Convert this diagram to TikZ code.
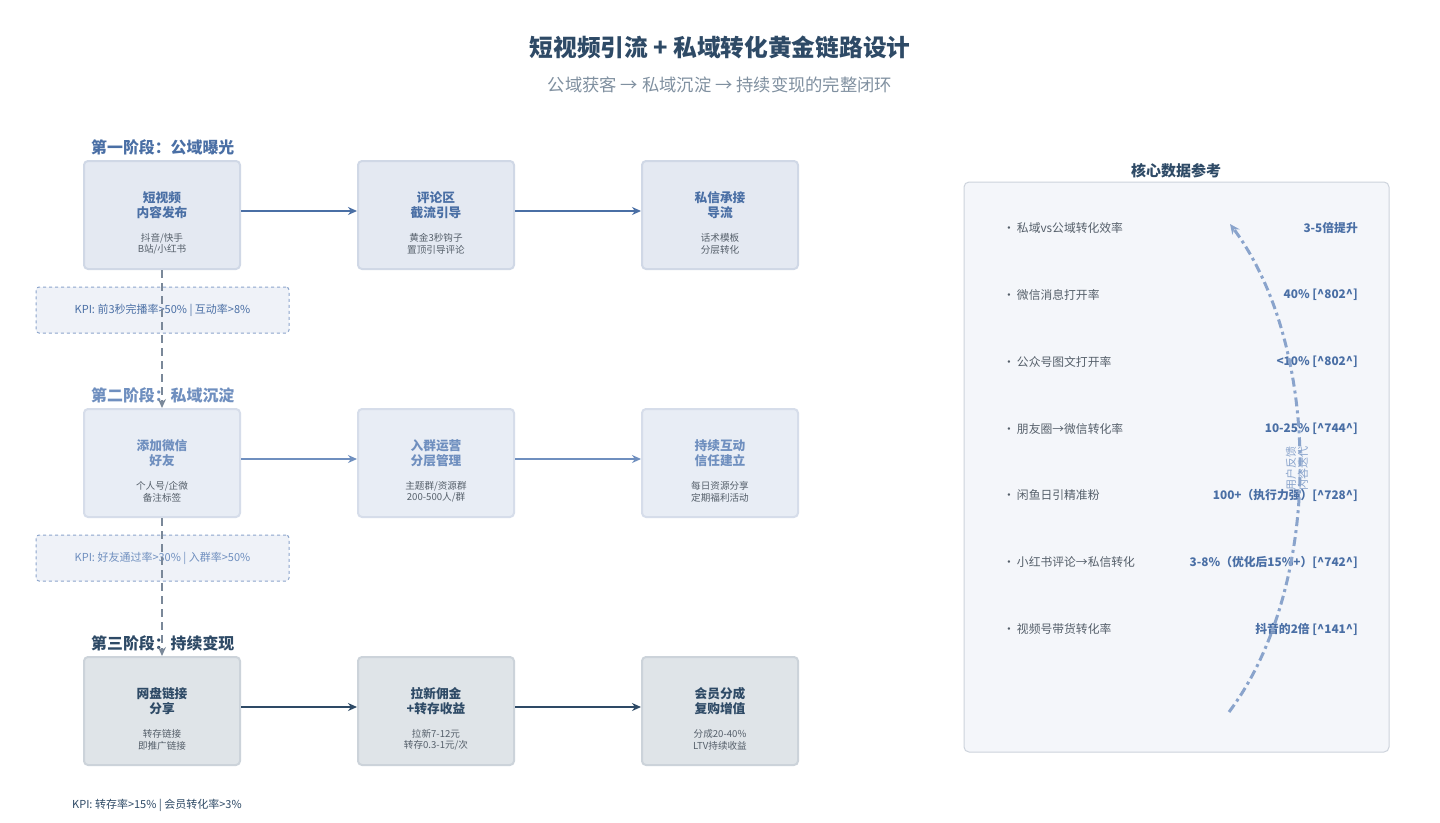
\documentclass[tikz,border=0pt]{standalone}
\usepackage{fontspec}
\setmainfont{Noto Sans CJK SC}
\usetikzlibrary{arrows.meta}
\definecolor{c1}{HTML}{4A6FA5}\definecolor{f1}{HTML}{E4E9F2}\definecolor{b1}{HTML}{D0D8E6}
\definecolor{c2}{HTML}{6F8FBF}\definecolor{f2}{HTML}{E8EDF5}\definecolor{b2}{HTML}{D6DDEA}
\definecolor{c3}{HTML}{2E4A66}\definecolor{f3}{HTML}{DFE4E8}\definecolor{b3}{HTML}{CCD3DA}
\definecolor{tt}{HTML}{2E4A66}\definecolor{sub}{HTML}{8090A0}\definecolor{gr}{HTML}{555F6A}
\definecolor{vg}{HTML}{7A8899}\definecolor{pf}{HTML}{F4F6FA}\definecolor{pb}{HTML}{CDD3DC}
\definecolor{cv}{HTML}{8AA4CC}
\begin{document}
\begin{tikzpicture}[x=1pt,y=-1pt,
 box/.style={draw=#1,line width=2pt,rounded corners=4pt,minimum width=156pt,minimum height=108pt,inner sep=0pt},
 ttl/.style={font=\bfseries\fontsize{12.7}{15}\selectfont,align=center},
 sm/.style={font=\fontsize{9.6}{11.5}\selectfont,align=center,text=gr},
 stage/.style={font=\bfseries\fontsize{15.9}{18}\selectfont,anchor=west,inner sep=0pt},
 harr/.style={line width=2.6pt,-{Stealth[length=9pt,width=8pt]}},
 varr/.style={vg,line width=2.6pt,dash pattern=on 8pt off 5pt,-{Stealth[length=9pt,width=8pt]}},
 kpi/.style={draw=#1,dashed,line width=1pt,rounded corners=3pt,minimum width=253pt,minimum height=46pt,font=\fontsize{11}{13}\selectfont},
 li/.style={anchor=west,font=\fontsize{11.8}{13}\selectfont,text=gr,inner sep=0pt},
 ri/.style={anchor=east,font=\bfseries\fontsize{11.8}{13}\selectfont,text=c1,inner sep=0pt}]
\useasboundingbox (0,0) rectangle (1440,822);
\fill[white] (0,0) rectangle (1440,822);
\node[font=\bfseries\fontsize{23.7}{26}\selectfont,text=tt] (title) at (720,47) {短视频引流 + 私域转化黄金链路设计};
\node[font=\fontsize{17.3}{20}\selectfont,text=sub] (subt) at (720,85) {公域获客 → 私域沉淀 → 持续变现的完整闭环};
% stage labels
\node[stage,text=c1] (s1) at (91,147) {第一阶段：公域曝光};
\node[stage,text=c2] (s2) at (91,395) {第二阶段：私域沉淀};
\node[stage,text=c3] (s3) at (91,643) {第三阶段：持续变现};
% KPI boxes
\node[kpi=c2!80,fill=f2!70,text=c1] (k1) at (162.5,310) {KPI: 前3秒完播率>50\% | 互动率>8\%};
\node[kpi=c2!80,fill=f2!70,text=c2] (k2) at (162.5,558) {KPI: 好友通过率>30\% | 入群率>50\%};
\node[anchor=west,inner sep=0pt,font=\fontsize{11}{13}\selectfont,text=tt] (k3) at (72,805) {KPI: 转存率>15\% | 会员转化率>3\%};
% row1
\node[box=b1,fill=f1] (a1) at (162,215) {};
\node[ttl,text=c1] at (162,205) {短视频\\内容发布};
\node[sm] at (162,244) {抖音/快手\\B站/小红书};
\node[box=b1,fill=f1] (a2) at (436,215) {};
\node[ttl,text=c1] at (436,205) {评论区\\截流引导};
\node[sm] at (436,244) {黄金3秒钩子\\置顶引导评论};
\node[box=b1,fill=f1] (a3) at (720,215) {};
\node[ttl,text=c1] at (720,205) {私信承接\\导流};
\node[sm] at (720,244) {话术模板\\分层转化};
% row2
\node[box=b2,fill=f2] (b1n) at (162,463) {};
\node[ttl,text=c2] at (162,453) {添加微信\\好友};
\node[sm] at (162,492) {个人号/企微\\备注标签};
\node[box=b2,fill=f2] (b2n) at (436,463) {};
\node[ttl,text=c2] at (436,453) {入群运营\\分层管理};
\node[sm] at (436,492) {主题群/资源群\\200-500人/群};
\node[box=b2,fill=f2] (b3n) at (720,463) {};
\node[ttl,text=c2] at (720,453) {持续互动\\信任建立};
\node[sm] at (720,492) {每日资源分享\\定期福利活动};
% row3
\node[box=b3,fill=f3] (c1n) at (162,711) {};
\node[ttl,text=c3] at (162,701) {网盘链接\\分享};
\node[sm] at (162,740) {转存链接\\即推广链接};
\node[box=b3,fill=f3] (c2n) at (436,711) {};
\node[ttl,text=c3] at (436,701) {拉新佣金\\+转存收益};
\node[sm] at (436,740) {拉新7-12元\\转存0.3-1元/次};
\node[box=b3,fill=f3] (c3n) at (720,711) {};
\node[ttl,text=c3] at (720,701) {会员分成\\复购增值};
\node[sm] at (720,740) {分成20-40\%\\LTV持续收益};
% arrows
\draw[harr,c1] ([yshift=4pt]a1.east) -- ([yshift=4pt]a2.west);
\draw[harr,c1] ([yshift=4pt]a2.east) -- ([yshift=4pt]a3.west);
\draw[harr,c2] ([yshift=4pt]b1n.east) -- ([yshift=4pt]b2n.west);
\draw[harr,c2] ([yshift=4pt]b2n.east) -- ([yshift=4pt]b3n.west);
\draw[harr,c3] ([yshift=4pt]c1n.east) -- ([yshift=4pt]c2n.west);
\draw[harr,c3] ([yshift=4pt]c2n.east) -- ([yshift=4pt]c3n.west);
\draw[varr] (a1.south) -- (b1n.north);
\draw[varr] (b1n.south) -- (c1n.north);
% right panel
\node[font=\bfseries\fontsize{15}{17}\selectfont,text=tt] (ph) at (1176,171) {核心数据参考};
\node[draw=pb,fill=pf,line width=1pt,rounded corners=5pt,minimum width=425pt,minimum height=570pt] (panel) at (1176.5,467) {};
\foreach \y/\l/\r in {228/私域vs公域转化效率/3-5倍提升, 295/微信消息打开率/{40\% [\textasciicircum802\textasciicircum]}, 362/公众号图文打开率/{<10\% [\textasciicircum802\textasciicircum]}, 429/朋友圈→微信转化率/{10-25\% [\textasciicircum744\textasciicircum]}, 495/闲鱼日引精准粉/{100+（执行力强）[\textasciicircum728\textasciicircum]}, 562/小红书评论→私信转化/{3-8\%（优化后15\%+）[\textasciicircum742\textasciicircum]}, 629/视频号带货转化率/{抖音的2倍 [\textasciicircum141\textasciicircum]}}
 {\node[li] at (1003,\y) {•\,\l}; \node[ri] at (1358,\y) {\r};}
\coordinate (cs) at (1229,712);
\coordinate (ce) at (1230,224);
\draw[cv,line width=3pt,dash pattern=on 9pt off 4pt on 3pt off 4pt,-{Stealth[length=10pt,width=9pt]}] (cs) .. controls (1323,587) and (1323,349) .. (ce);
\node[rotate=90,font=\fontsize{11}{12}\selectfont,text=cv,align=center] (fb) at (1297,468) {用户反馈\\内容迭代};
\end{tikzpicture}
\end{document}
